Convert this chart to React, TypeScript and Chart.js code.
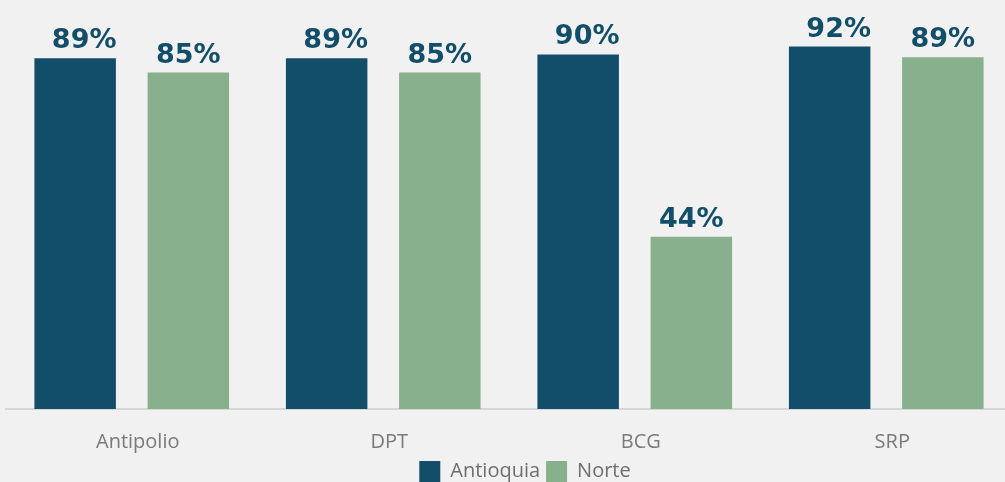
import React, { useEffect, useRef } from "react";
import { Chart, registerables } from "chart.js";

Chart.register(...registerables);

const categories = ["Antipolio", "DPT", "BCG", "SRP"];
const antioquia = [89.0, 89.0, 90.0, 92.0];
const norte = [85.4, 85.4, 43.7, 89.3];
const seriesNames = ["Antioquia", "Norte"];

const TEAL = "#124e69";
const GREEN = "#88b08c";
const BG = "#f1f1f1";

const bgPlugin = {
  id: "bgFill",
  beforeDraw(chart: any) {
    const { ctx, width, height } = chart;
    ctx.save();
    ctx.fillStyle = BG;
    ctx.fillRect(0, 0, width, height);
    ctx.restore();
  },
};

const labelPlugin = {
  id: "valueLabels",
  afterDatasetsDraw(chart: any) {
    const { ctx } = chart;
    ctx.save();
    ctx.font = "bold 27px 'DejaVu Sans'";
    ctx.fillStyle = TEAL;
    ctx.textAlign = "center";
    ctx.textBaseline = "alphabetic";
    chart.data.datasets.forEach((ds: any, di: number) => {
      const meta = chart.getDatasetMeta(di);
      const dx = di === 0 ? 9 : 0;
      meta.data.forEach((bar: any, i: number) => {
        ctx.fillText(Math.round(ds.data[i]) + "%", bar.x + dx, bar.y - 10);
      });
    });
    ctx.restore();
  },
};

export default function App() {
  const ref = useRef<HTMLCanvasElement | null>(null);
  useEffect(() => {
    document.body.style.background = BG;
    const chart = new Chart(ref.current as HTMLCanvasElement, {
      type: "bar",
      data: {
        labels: categories,
        datasets: [
          { label: seriesNames[0], data: antioquia, backgroundColor: TEAL, borderWidth: 0 },
          { label: seriesNames[1], data: norte, backgroundColor: GREEN, borderWidth: 0 },
        ],
      },
      options: {
        animation: false,
        responsive: false,
        events: [],
        layout: { padding: { top: 15, left: 6, right: 0, bottom: 0 } },
        datasets: {
          bar: { categoryPercentage: 0.9, barPercentage: 0.72 },
        } as any,
        scales: {
          x: {
            grid: { display: false },
            border: { display: true, color: "#d6d6d6", width: 2 },
            ticks: {
              color: "#7a7a7a",
              padding: 13,
              labelOffset: 6,
              font: { family: "'Open Sans'", size: 20 },
            },
            afterFit(scale: any) {
              scale.height = 46;
            },
          },
          y: {
            position: "right",
            min: 0,
            max: 100,
            display: true,
            grid: { display: false },
            border: { display: false },
            ticks: { display: false },
            afterFit(scale: any) {
              scale.width = 32;
            },
          },
        },
        plugins: {
          tooltip: { enabled: false },
          legend: {
            position: "bottom",
            labels: {
              boxWidth: 21,
              boxHeight: 21,
              padding: 6,
              color: "#6e6e6e",
              font: { family: "'Open Sans'", size: 20 },
              generateLabels(chart: any) {
                return chart.data.datasets.map((ds: any, i: number) => ({
                  text: ds.label,
                  fillStyle: ds.backgroundColor,
                  strokeStyle: ds.backgroundColor,
                  lineWidth: 0,
                  hidden: false,
                  datasetIndex: i,
                  fontColor: "#6e6e6e",
                }));
              },
            },
          },
        },
      },
      plugins: [bgPlugin, labelPlugin],
    });
    return () => chart.destroy();
  }, []);
  return (
    <div
      style={{
        position: "fixed",
        left: 0,
        top: 0,
        width: 1005,
        height: 482,
        overflow: "hidden",
        background: BG,
      }}
    >
      <canvas ref={ref} width={1044} height={492} style={{ display: "block" }} />
    </div>
  );
}
